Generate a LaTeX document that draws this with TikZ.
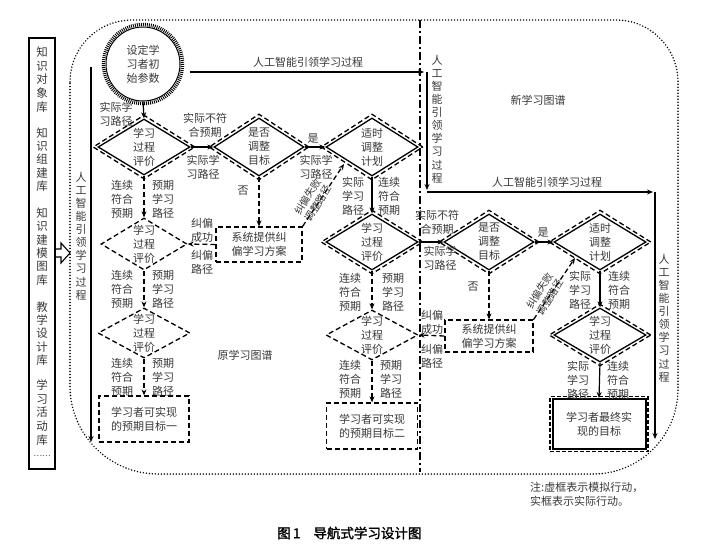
\documentclass[tikz,border=0pt]{standalone}
\usepackage{fontspec}
\setmainfont{Noto Sans CJK SC}
\newfontfamily\capfont[FakeBold=1.5]{Noto Sans CJK SC}
\usetikzlibrary{shapes.geometric,arrows.meta}
\begin{document}
\begin{tikzpicture}[x=1pt,y=-1pt,
  txt/.style={font=\fontsize{11}{14}\selectfont, align=center, inner sep=0pt, text=black!78},
  vt/.style={font=\fontsize{11}{13.1}\selectfont, align=center, inner sep=0pt, text width=12pt, text=black!78},
  rt/.style={font=\fontsize{10}{12.5}\selectfont, align=center, inner sep=0pt, text=black!78, rotate=58},
  sd/.style={diamond, draw, line width=1.3pt, inner sep=0pt},
  dd/.style={diamond, draw, line width=1.3pt, dash pattern=on 5pt off 3pt, inner sep=0pt},
  dbox/.style={rectangle, draw, line width=1.3pt, dash pattern=on 5pt off 3pt, inner sep=0pt},
  sl/.style={line width=1.2pt, -{Stealth[length=6pt,width=5pt]}},
  dl/.style={line width=1.3pt, dash pattern=on 5pt off 3pt, -{Stealth[length=6pt,width=5pt]}},
  dotb/.style={line width=1.6pt, dash pattern=on 0pt off 3pt, line cap=round}
]
\useasboundingbox (0,0) rectangle (702,547);
\fill[white] (0,0) rectangle (702,547);

% big dotted rounded frame
\draw[dotb] (70,82) .. controls (70,47.8) and (97.8,20) .. (132,20) -- (616,20)
  .. controls (650.2,20) and (678,47.8) .. (678,82) -- (678,389)
  .. controls (678,436) and (640,474) .. (593,474) -- (158,474)
  .. controls (109.4,474) and (70,434.6) .. (70,386) -- cycle;

% left knowledge bar
\node[draw, line width=2pt, minimum width=26pt, minimum height=431pt, inner sep=0pt] (kb) at (42,253.5) {};
\node[vt, font=\fontsize{11.5}{13.6}\selectfont] (k1) at (42,79.5) {知\\识\\对\\象\\库};
\node[vt, font=\fontsize{11.5}{13.3}\selectfont] (k2) at (42,159.5) {知\\识\\组\\建\\库};
\node[vt, font=\fontsize{11.5}{13.4}\selectfont] (k3) at (42,246.5) {知\\识\\建\\模\\图\\库};
\node[vt, font=\fontsize{11.5}{13.3}\selectfont] (k4) at (42,333.5) {教\\学\\设\\计\\库};
\node[vt, font=\fontsize{11.5}{13.7}\selectfont] (k5) at (42,412.5) {学\\习\\活\\动\\库};
\node[txt, font=\fontsize{8}{9}\selectfont] (k6) at (42,456) {……};

% hollow block arrow
\draw[line width=1.1pt, fill=white] (56,249) -- (61,249) -- (61,243) -- (70,253) -- (61,263) -- (61,257) -- (56,257);

% dash-dot divider
\coordinate (dvt) at (420,20);
\coordinate (dvb) at (420,472);
\draw[line width=1.5pt, dash pattern=on 8pt off 3pt on 2pt off 3pt] (dvt) -- (dvb);

% start circle
\node[circle, draw, line width=1pt, minimum size=74pt, inner sep=0pt] (s) at (143,64) {};
\draw[line width=3.5pt, dash pattern=on 0.9pt off 1.1pt] (s.center) circle[radius=39.5];
\node[txt] at (s) {设定学\\习者初\\始参数};

% AI guiding arrows
\coordinate (a1s) at (190,72);
\coordinate (a1e) at (424,72);
\draw[sl] (a1s) -- (a1e);
\node[txt] (la1) at (308,62) {人工智能引领学习过程};
\coordinate (a2s) at (427,72);
\coordinate (a2e) at (427,190);
\draw[sl] (a2s) -- (a2e);
\node[vt] (la2) at (437,119) {人\\工\\智\\能\\引\\领\\学\\习\\过\\程};
\coordinate (a3s) at (427,192);
\coordinate (a3e) at (653,192);
\draw[sl] (a3s) -- (a3e);
\node[txt] (la3) at (547,182) {人工智能引领学习过程};
\coordinate (a4s) at (655,192);
\coordinate (a4e) at (655,439);
\draw[sl] (a4s) -- (a4e);
\node[vt] (la4) at (664,318) {人\\工\\智\\能\\引\\领\\学\\习\\过\\程};
\coordinate (a0s) at (91,67);
\coordinate (a0e) at (91,442);
\draw[sl] (a0s) -- (a0e);
\node[vt] (la0) at (81,236) {人\\工\\智\\能\\引\\领\\学\\习\\过\\程};

\node[txt] (old) at (245,355) {原学习图谱};
\node[txt] (new) at (538,100) {新学习图谱};

% ---------- left column ----------
\node[sd, minimum width=92pt, minimum height=56pt] (d1) at (144,147) {};
\node[dd, minimum width=102pt, minimum height=64pt] at (d1) {};
\node[txt] at (d1) {学习\\过程\\评价};

\node[sd, minimum width=90pt, minimum height=58pt] (d2) at (259,147) {};
\node[dd, minimum width=100pt, minimum height=66pt] at (d2) {};
\node[txt] at (d2) {是否\\调整\\目标};

\node[sd, minimum width=92pt, minimum height=58pt] (d3) at (372,147) {};
\node[dd, minimum width=102pt, minimum height=66pt] at (d3) {};
\node[txt] at (d3) {适时\\调整\\计划};

\node[dd, minimum width=86pt, minimum height=52pt] (e1) at (144,244) {};
\node[txt] at (e1) {学习\\过程\\评价};
\node[dd, minimum width=92pt, minimum height=50pt] (e2) at (144,333) {};
\node[txt] at (e2) {学习\\过程\\评价};

\node[dbox, minimum width=86pt, minimum height=35pt] (b1) at (259,244.5) {};
\node[txt] at (b1) {系统提供纠\\偏学习方案};

\node[dbox, minimum width=90pt, minimum height=46pt] (g1) at (144,419) {};
\node[txt] at (g1) {学习者可实现\\的预期目标一};

\draw[sl] (s.south) -- (d1.north);
\node[txt] at (116,114) {实际学\\习路径};
\draw[sl] (d1.east) -- (d2.west);
\node[txt] at (205,125) {实际不符\\合预期};
\node[txt] at (203,167) {实际学\\习路径};
\draw[sl] (d2.east) -- (d3.west);
\node[txt] at (313,139) {是};
\node[txt] at (316,167) {实际学\\习路径};
\draw[dl] (d2.south) -- (b1.north);
\node[txt] at (243,191) {否};
\draw[dl] (b1.west) -- (e1.east);
\node[txt] at (202,230) {纠偏\\成功};
\node[txt] at (202,262) {纠偏\\路径};
\coordinate (f1) at (344,164);
\draw[dl] (b1.north east) -- (f1);
\node[rt] at (313,200) {纠偏失败\\调整路径};

\draw[dl] (d1.south) -- (e1.north);
\node[txt] at (122,199) {连续\\符合\\预期};
\node[txt] at (163,199) {预期\\学习\\路径};
\draw[dl] (e1.south) -- (e2.north);
\node[txt] at (122,289) {连续\\符合\\预期};
\node[txt] at (163,289) {预期\\学习\\路径};
\draw[dl] (e2.south) -- (g1.north);
\node[txt] at (122,377) {连续\\符合\\预期};
\node[txt] at (163,377) {预期\\学习\\路径};

% ---------- middle column ----------
\node[sd, minimum width=92pt, minimum height=56pt] (d4) at (372,242) {};
\node[dd, minimum width=102pt, minimum height=64pt] at (d4) {};
\node[txt] at (d4) {学习\\过程\\评价};

\node[dd, minimum width=92pt, minimum height=50pt] (e3) at (372,335) {};
\node[txt] at (e3) {学习\\过程\\评价};

\node[dbox, minimum width=91pt, minimum height=46pt] (g2) at (372,426) {};
\node[txt] at (g2) {学习者可实现\\的预期目标二};

\draw[sl] (d3.south) -- (d4.north);
\node[txt] at (353,196) {实际\\学习\\路径};
\node[txt] at (389,196) {连续\\符合\\预期};
\draw[dl] (d4.south) -- (e3.north);
\node[txt] at (350,292) {连续\\符合\\预期};
\node[txt] at (393,292) {预期\\学习\\路径};
\draw[dl] (e3.south) -- (g2.north);
\node[txt] at (350,379) {连续\\符合\\预期};
\node[txt] at (391,379) {预期\\学习\\路径};

% ---------- right column ----------
\node[sd, minimum width=90pt, minimum height=56pt] (d5) at (489,242) {};
\node[dd, minimum width=100pt, minimum height=64pt] at (d5) {};
\node[txt] at (d5) {是否\\调整\\目标};

\node[sd, minimum width=92pt, minimum height=56pt] (d6) at (600,242) {};
\node[dd, minimum width=102pt, minimum height=64pt] at (d6) {};
\node[txt] at (d6) {适时\\调整\\计划};

\node[sd, minimum width=92pt, minimum height=54pt] (d7) at (600,335) {};
\node[dd, minimum width=102pt, minimum height=62pt] at (d7) {};
\node[txt] at (d7) {学习\\过程\\评价};

\node[dbox, minimum width=88pt, minimum height=32pt] (b2) at (489,336) {};
\node[txt] at (b2) {系统提供纠\\偏学习方案};

\node[rectangle, draw, line width=2pt, minimum width=93pt, minimum height=50pt, inner sep=0pt] (gf) at (599,424) {};
\node[dbox, line width=1.1pt, dash pattern=on 4pt off 2pt, minimum width=98pt, minimum height=55pt] at (gf) {};
\node[txt] at (gf) {学习者最终实\\现的目标};

\draw[sl] (d4.east) -- (d5.west);
\node[txt] at (437,222) {实际不符\\合预期};
\node[txt] at (440,258) {实际学\\习路径};
\draw[sl] (d5.east) -- (d6.west);
\node[txt] at (543,233) {是};
\draw[dl] (d5.south) -- (b2.north);
\node[txt] at (473,287) {否};
\draw[dl] (b2.west) -- (e3.east);
\node[txt] at (432,322) {纠偏\\成功};
\node[txt] at (432,356) {纠偏\\路径};
\coordinate (f2) at (575,258);
\draw[dl] (b2.north east) -- (f2);
\node[rt] at (545,294) {纠偏失败\\调整路径};

\draw[sl] (d6.south) -- (d7.north);
\node[txt] at (580,290) {实际\\学习\\路径};
\node[txt] at (619,290) {连续\\符合\\预期};
\draw[sl] (d7.south) -- (gf.north);
\node[txt] at (578,380) {实际\\学习\\路径};
\node[txt] at (618,380) {连续\\符合\\预期};

% note and caption
\node[txt, align=left, anchor=west] (note) at (530,494.5) {注:虚框表示模拟行动，\\实框表示实际行动。};
\node[anchor=west, inner sep=0pt, font=\capfont\fontsize{13.5}{15}\selectfont] (cap) at (277,533) {图\,1\hspace{13pt}导航式学习设计图};
\end{tikzpicture}
\end{document}
